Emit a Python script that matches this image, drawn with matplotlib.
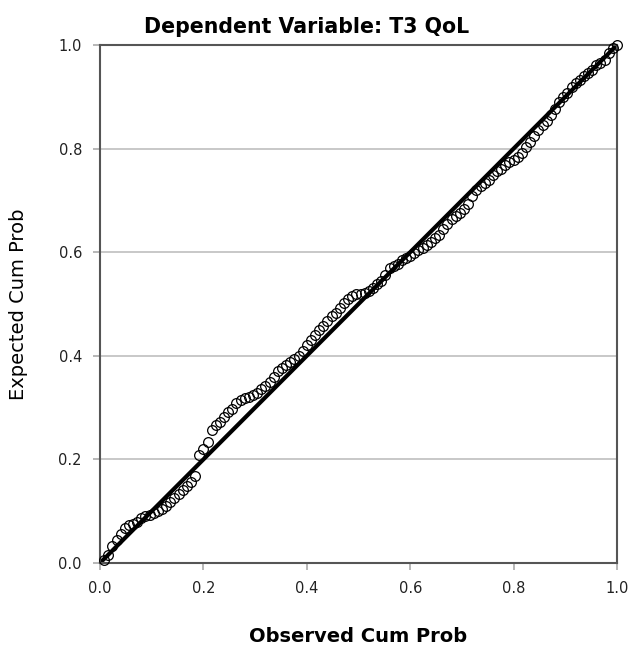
import matplotlib
matplotlib.use("Agg")
import matplotlib.pyplot as plt

plt.rcParams['font.family'] = ['DejaVu Sans']

# Normal P-P plot of regression standardized residuals
observed_cum_prob = [
    0.008, 0.016, 0.024, 0.032, 0.040, 0.048, 0.056, 0.064, 0.072, 0.080,
    0.088, 0.096, 0.104, 0.112, 0.120, 0.128, 0.136, 0.144, 0.152, 0.160,
    0.168, 0.176, 0.184, 0.192, 0.200, 0.208, 0.216, 0.224, 0.232, 0.240,
    0.248, 0.256, 0.264, 0.272, 0.280, 0.288, 0.296, 0.304, 0.312, 0.320,
    0.328, 0.336, 0.344, 0.352, 0.360, 0.368, 0.376, 0.384, 0.392, 0.400,
    0.408, 0.416, 0.424, 0.432, 0.440, 0.448, 0.456, 0.464, 0.472, 0.480,
    0.488, 0.496, 0.504, 0.512, 0.520, 0.528, 0.536, 0.544, 0.552, 0.560,
    0.568, 0.576, 0.584, 0.592, 0.600, 0.608, 0.616, 0.624, 0.632, 0.640,
    0.648, 0.656, 0.664, 0.672, 0.680, 0.688, 0.696, 0.704, 0.712, 0.720,
    0.728, 0.736, 0.744, 0.752, 0.760, 0.768, 0.776, 0.784, 0.792, 0.800,
    0.808, 0.816, 0.824, 0.832, 0.840, 0.848, 0.856, 0.864, 0.872, 0.880,
    0.888, 0.896, 0.904, 0.912, 0.920, 0.928, 0.936, 0.944, 0.952, 0.960,
    0.968, 0.976, 0.984, 0.992, 1.000,
]
expected_cum_prob = [
    0.006, 0.016, 0.032, 0.044, 0.056, 0.068, 0.074, 0.076, 0.080, 0.086,
    0.090, 0.092, 0.096, 0.100, 0.105, 0.111, 0.118, 0.125, 0.133, 0.141,
    0.149, 0.156, 0.168, 0.208, 0.220, 0.234, 0.256, 0.266, 0.272, 0.282,
    0.292, 0.298, 0.309, 0.315, 0.318, 0.321, 0.324, 0.328, 0.336, 0.342,
    0.350, 0.360, 0.370, 0.376, 0.382, 0.388, 0.394, 0.400, 0.410, 0.420,
    0.430, 0.441, 0.450, 0.458, 0.468, 0.476, 0.483, 0.492, 0.502, 0.510,
    0.516, 0.520, 0.520, 0.522, 0.526, 0.530, 0.538, 0.544, 0.556, 0.570,
    0.574, 0.578, 0.584, 0.588, 0.592, 0.598, 0.604, 0.609, 0.614, 0.620,
    0.627, 0.634, 0.644, 0.654, 0.664, 0.670, 0.676, 0.684, 0.694, 0.708,
    0.720, 0.728, 0.734, 0.740, 0.750, 0.756, 0.761, 0.768, 0.774, 0.778,
    0.783, 0.792, 0.804, 0.812, 0.824, 0.836, 0.846, 0.854, 0.864, 0.876,
    0.890, 0.900, 0.908, 0.918, 0.926, 0.932, 0.940, 0.946, 0.952, 0.962,
    0.966, 0.972, 0.984, 0.994, 1.000,
]
tick_values = [0.0, 0.2, 0.4, 0.6, 0.8, 1.0]
tick_labels = ["0.0", "0.2", "0.4", "0.6", "0.8", "1.0"]

fig = plt.figure(figsize=(6.34, 6.47), dpi=100)
ax = fig.add_axes([100 / 634, 84 / 647, 517 / 634, 518 / 647])

ax.set_xlim(0, 1)
ax.set_ylim(0, 1)

ax.set_yticks(tick_values)
ax.set_yticklabels(tick_labels)
ax.set_xticks(tick_values)
ax.set_xticklabels(tick_labels)
ax.yaxis.grid(True, color="#c8c8c8", linewidth=1.4)
ax.set_axisbelow(True)

# reference diagonal
ax.plot([0, 1], [0, 1], color="black", linewidth=3.0, zorder=2)

ax.plot(observed_cum_prob, expected_cum_prob, linestyle="none", marker="o",
        markersize=7.0, markerfacecolor="none", markeredgecolor="black",
        markeredgewidth=0.9, zorder=3, clip_on=False)

for s in ax.spines.values():
    s.set_color("#555555")
    s.set_linewidth(1.5)

ax.tick_params(axis="both", direction="out", length=5, width=1.2,
               color="#aaaaaa", labelsize=10.5, labelcolor="#222222", pad=8)

ax.set_xlabel("Observed Cum Prob", fontsize=14, fontweight="bold", labelpad=22)
ax.set_ylabel("Expected Cum Prob", fontsize=14, labelpad=22)

fig.text(307 / 634, 1 - 27 / 647, "Dependent Variable: T3 QoL",
         fontsize=14.8, fontweight="bold", ha="center", va="center")

fig.savefig("out.png", dpi=100)
